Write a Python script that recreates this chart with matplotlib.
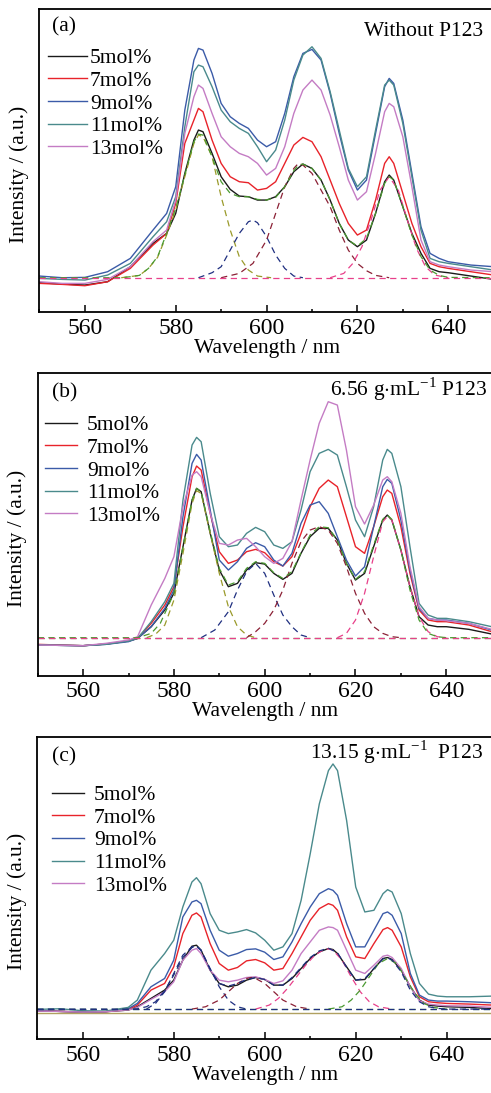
import matplotlib
matplotlib.use('Agg')
import matplotlib.pyplot as plt
from matplotlib.ticker import MultipleLocator

plt.rcParams['font.family'] = ['Liberation Serif', 'DejaVu Serif']
plt.rcParams['mathtext.fontset'] = 'custom'
plt.rcParams['mathtext.rm'] = 'Liberation Serif'
plt.rcParams['font.size'] = 15.5

labels = ['5mol%', '7mol%', '9mol%', '11mol%', '13mol%']
colors = ['#1a1a1a', '#e8232a', '#3b5ba8', '#4a8a8c', '#c47cc4']

# ---------------- (a) without P123 ----------------
wl_a = [550, 555, 560, 565, 570, 575, 578, 580, 582, 584, 585, 586, 588, 590, 592, 594, 596, 598, 600, 602, 604,
        606, 608, 610, 612, 614, 616, 618, 620, 622, 624, 626, 627, 628, 630, 632, 634, 636, 638, 640, 645, 650]
a_5 = [88, 84, 81, 91, 136, 206, 236, 296, 416, 516, 546, 541, 476, 406, 368, 348, 346, 336, 336, 346, 376,
       421, 444, 431, 396, 336, 266, 216, 196, 216, 296, 391, 411, 396, 316, 236, 176, 131, 121, 118, 108, 98]
a_7 = [86, 83, 79, 91, 131, 201, 236, 326, 506, 576, 611, 601, 516, 446, 406, 391, 388, 366, 371, 391, 446,
       501, 524, 511, 466, 396, 326, 266, 231, 246, 336, 446, 466, 446, 356, 266, 196, 146, 136, 131, 121, 111]
a_9 = [108, 103, 104, 121, 161, 246, 296, 376, 606, 756, 791, 786, 716, 626, 586, 566, 551, 516, 496, 511, 596,
       706, 776, 788, 756, 656, 536, 426, 366, 396, 536, 676, 701, 686, 576, 416, 256, 176, 161, 151, 141, 136]
a_11 = [101, 98, 96, 111, 146, 226, 271, 346, 556, 721, 741, 736, 676, 606, 571, 551, 536, 496, 451, 486, 576,
        696, 771, 796, 761, 661, 546, 431, 376, 406, 546, 681, 696, 681, 566, 406, 246, 161, 151, 146, 136, 126]
a_13 = [91, 86, 86, 98, 136, 211, 246, 336, 536, 646, 681, 671, 596, 526, 496, 476, 466, 446, 411, 431, 496,
        596, 666, 696, 666, 591, 496, 396, 336, 361, 476, 601, 626, 616, 526, 376, 216, 151, 141, 136, 126, 121]
a_base = 103

# fitted components (a)
a_p1_wl = [568, 572, 574, 576, 578, 580, 582, 584, 585, 586, 588, 590, 592, 594, 596, 598, 601]
a_p1 = [103, 110, 131, 164, 231, 306, 406, 506, 531, 526, 466, 346, 246, 166, 126, 108, 103]
a_p2_wl = [585, 588, 590, 592, 594, 596, 597, 598, 600, 602, 604, 606, 608]
a_p2 = [103, 118, 136, 186, 236, 271, 276, 268, 226, 171, 131, 108, 103]
a_p3_wl = [590, 594, 597, 600, 602, 604, 606, 607, 608, 610, 612, 614, 616, 618, 620, 622, 624, 627]
a_p3 = [103, 116, 146, 216, 296, 376, 431, 446, 441, 416, 366, 316, 246, 186, 146, 124, 110, 103]
a_p4_wl = [614, 617, 619, 621, 623, 625, 627, 629, 631, 633, 635, 637, 640]
a_p4 = [103, 116, 146, 196, 276, 366, 406, 366, 276, 191, 136, 111, 103]
a_fit_wl = [550, 568, 570, 572, 574, 576, 578, 580, 582, 584, 585, 586, 588, 590, 592, 594, 596, 598, 600, 602, 604,
            606, 607, 608, 610, 612, 614, 616, 618, 620, 622, 624, 626, 627, 628, 630, 632, 634, 636, 638, 640, 650]
a_fit = [103, 103, 106, 110, 131, 166, 236, 311, 411, 511, 534, 531, 466, 391, 356, 346, 346, 338, 336, 344, 376,
         424, 441, 444, 431, 396, 336, 266, 216, 198, 221, 296, 386, 406, 396, 316, 231, 166, 126, 110, 104, 103]

# ---------------- (b) 6.56 g/mL P123 ----------------
wl_b = [550, 555, 560, 565, 570, 572, 575, 578, 580, 582, 584, 585, 586, 588, 590, 592, 594, 596, 598, 600, 602, 604,
        606, 608, 610, 612, 614, 616, 618, 620, 622, 624, 626, 627, 628, 630, 632, 634, 636, 638, 640, 645, 650]
b_5 = [92, 91, 90, 95, 104, 112, 147, 197, 247, 387, 527, 562, 552, 427, 317, 267, 277, 317, 339, 335, 307, 289,
       307, 367, 417, 442, 442, 407, 337, 287, 307, 387, 467, 482, 467, 377, 267, 177, 152, 147, 147, 139, 125]
b_7 = [94, 92, 90, 95, 104, 112, 157, 212, 267, 447, 597, 629, 617, 487, 372, 337, 347, 372, 379, 369, 342, 329,
       357, 427, 507, 562, 587, 567, 477, 387, 367, 447, 537, 557, 547, 447, 307, 197, 167, 162, 162, 152, 132]
b_9 = [92, 91, 90, 94, 102, 112, 147, 202, 257, 477, 637, 664, 647, 497, 347, 317, 342, 382, 399, 387, 347, 329,
       367, 457, 512, 522, 487, 417, 347, 299, 327, 447, 567, 589, 577, 467, 317, 202, 172, 167, 167, 157, 137]
b_11 = [92, 91, 90, 94, 104, 112, 162, 222, 277, 527, 692, 715, 702, 547, 417, 387, 392, 427, 445, 432, 392, 382,
        402, 497, 612, 667, 679, 662, 567, 467, 417, 507, 647, 679, 667, 567, 387, 217, 182, 172, 172, 162, 147]
b_13 = [92, 91, 90, 97, 107, 117, 212, 292, 357, 507, 602, 612, 597, 487, 397, 392, 407, 412, 387, 357, 337, 352,
        402, 527, 647, 757, 822, 812, 677, 507, 455, 512, 587, 597, 582, 487, 327, 207, 172, 167, 165, 157, 139]
b_base = 114

b_p1_wl = [574, 576, 578, 580, 582, 584, 585, 586, 588, 590, 592, 594, 596, 598]
b_p1 = [114, 125, 152, 227, 367, 517, 555, 547, 427, 307, 207, 147, 122, 114]
b_p2_wl = [586, 589, 592, 594, 596, 598, 600, 602, 604, 606, 608, 610]
b_p2 = [114, 137, 192, 257, 312, 337, 307, 242, 182, 147, 122, 114]
b_p3_wl = [596, 598, 600, 602, 604, 606, 608, 610, 612, 614, 616, 618, 620, 622, 624, 626, 628, 630]
b_p3 = [114, 132, 157, 197, 257, 337, 402, 437, 447, 437, 397, 327, 247, 187, 147, 127, 117, 114]
b_p4_wl = [616, 618, 620, 622, 624, 626, 627, 628, 630, 632, 634, 636, 638, 640]
b_p4 = [114, 127, 167, 247, 357, 462, 477, 467, 377, 267, 177, 132, 117, 114]
b_fit_wl = [550, 572, 575, 577, 578, 580, 582, 584, 585, 586, 588, 590, 592, 594, 596, 598, 600, 602, 604, 606,
            608, 610, 612, 614, 616, 618, 620, 622, 624, 626, 627, 628, 630, 632, 634, 636, 638, 640, 650]
b_fit = [114, 114, 127, 157, 187, 247, 387, 527, 562, 552, 432, 322, 272, 282, 322, 342, 337, 309, 292, 312,
         369, 422, 447, 444, 407, 337, 289, 312, 392, 469, 482, 469, 377, 257, 167, 127, 117, 114, 114]

# ---------------- (c) 13.15 g/mL P123 ----------------
wl_c = [550, 555, 560, 565, 570, 572, 575, 578, 580, 582, 584, 585, 586, 588, 590, 592, 594, 596, 598, 600, 602, 604,
        606, 608, 610, 612, 614, 615, 616, 618, 620, 622, 624, 626, 627, 628, 630, 632, 634, 636, 638, 640, 645, 650]
c_5 = [85, 83, 81, 82, 87, 97, 122, 147, 177, 237, 279, 282, 267, 207, 167, 157, 162, 177, 185, 179, 162, 162,
       182, 212, 242, 262, 272, 269, 257, 217, 177, 179, 212, 242, 245, 239, 207, 157, 117, 102, 99, 97, 95, 91]
c_7 = [85, 83, 81, 82, 89, 102, 147, 167, 217, 317, 372, 379, 367, 287, 227, 207, 215, 235, 239, 229, 207, 212,
       257, 307, 357, 392, 407, 402, 387, 307, 247, 242, 287, 329, 335, 327, 277, 187, 127, 112, 109, 107, 105, 102]
c_9 = [85, 83, 81, 82, 91, 107, 157, 182, 237, 367, 412, 417, 407, 327, 267, 249, 257, 269, 271, 261, 239, 247,
       292, 347, 397, 437, 452, 447, 432, 347, 277, 277, 327, 377, 382, 372, 317, 197, 132, 117, 114, 114, 112, 109]
c_11 = [89, 91, 85, 84, 95, 117, 207, 257, 297, 397, 472, 485, 467, 377, 327, 317, 322, 329, 319, 297, 267, 277,
        317, 417, 557, 707, 807, 827, 807, 657, 457, 382, 387, 437, 449, 442, 377, 257, 167, 135, 129, 127, 127, 129]
c_13 = [84, 83, 81, 82, 87, 95, 119, 142, 172, 237, 267, 272, 257, 207, 177, 172, 177, 185, 187, 179, 167, 175,
        207, 257, 292, 327, 337, 335, 327, 267, 207, 197, 222, 249, 252, 245, 212, 157, 115, 105, 102, 100, 99, 95]
c_base = 90
c_floor = 79

c_p1_wl = [574, 576, 578, 580, 582, 584, 585, 586, 588, 590, 592, 594, 596]
c_p1 = [90, 107, 142, 197, 252, 277, 279, 267, 212, 157, 117, 97, 90]
c_p2_wl = [584, 587, 590, 592, 594, 596, 597, 598, 600, 602, 604, 607, 610]
c_p2 = [90, 97, 117, 142, 167, 182, 185, 182, 167, 142, 117, 97, 90]
c_p3_wl = [598, 601, 603, 605, 607, 609, 611, 613, 614, 615, 617, 619, 621, 623, 625, 628]
c_p3 = [90, 102, 122, 152, 187, 222, 252, 269, 271, 267, 237, 187, 142, 112, 97, 90]
c_p4_wl = [614, 617, 619, 621, 623, 625, 627, 629, 631, 633, 635, 637, 640]
c_p4 = [90, 97, 117, 147, 187, 227, 242, 227, 182, 137, 107, 95, 90]
c_fit_wl = [550, 570, 572, 574, 576, 578, 580, 582, 584, 585, 586, 588, 590, 592, 594, 596, 598, 600, 602, 604,
            606, 608, 610, 612, 614, 616, 618, 620, 622, 624, 626, 627, 628, 630, 632, 634, 636, 638, 640, 650]
c_fit = [90, 90, 91, 97, 112, 145, 192, 245, 275, 279, 267, 209, 167, 159, 167, 179, 185, 179, 162, 162,
         185, 215, 245, 265, 273, 259, 215, 177, 182, 212, 241, 244, 237, 202, 147, 112, 97, 92, 90, 90]

olive = '#9a9a2a'
navy = '#1f2f80'
maroon = '#8b2035'
hotpink = '#e8408a'
green = '#4a9a30'

fig = plt.figure(figsize=(4.91, 10.93), dpi=100)


def panel(pos, wl, curves, comps, fit, fit_color, base, base_colors, tag, title, tag_xy, title_xy, leg_xy, hl, htp):
    ax = fig.add_axes(pos)
    for y, c, lab in zip(curves, colors, labels):
        ax.plot(wl, y, color=c, lw=1.0, label=lab)
    for cw, cy, cc in comps:
        ax.plot(cw, cy, color=cc, lw=0.9, dashes=(5, 3.5))
    ax.plot(fit[0], fit[1], color=fit_color, lw=0.9, dashes=(5, 3.5))
    for bc in base_colors:
        ax.plot([550, 650], [base, base], color=bc, lw=0.9, dashes=(5, 3.5))
    ax.set_xlim(550, 650)
    ax.set_ylim(0, 909)
    ax.set_yticks([])
    ax.xaxis.set_major_locator(MultipleLocator(20))
    ax.xaxis.set_minor_locator(MultipleLocator(10))
    ax.tick_params(axis='x', which='major', direction='in', length=5, width=1.1, pad=4, labelsize=17)
    ax.tick_params(axis='x', which='minor', direction='in', length=2.5, width=1.1)
    for s in ax.spines.values():
        s.set_linewidth(1.3)
    ax.set_xlabel('Wavelength / nm', labelpad=0)
    ax.set_ylabel('Intensity / (a.u.)')
    ax.yaxis.set_label_coords(-0.023, 0.454)
    ax.text(tag_xy[0], tag_xy[1], tag, transform=ax.transAxes, va='center', ha='left')
    ax.text(title_xy[0], title_xy[1], title, transform=ax.transAxes, va='center', ha='right')
    ax.legend(loc='upper left', bbox_to_anchor=leg_xy, frameon=False, borderpad=0, borderaxespad=0,
              labelspacing=0.12, handlelength=hl, handletextpad=htp, fontsize=15.5)
    return ax


panel([0.0804, 0.7145, 0.925, 0.2772], wl_a, [a_5, a_7, a_9, a_11, a_13],
      [(a_p1_wl, a_p1, olive), (a_p2_wl, a_p2, navy), (a_p3_wl, a_p3, maroon), (a_p4_wl, a_p4, hotpink)],
      (a_fit_wl, a_fit), green, a_base, [hotpink],
      '(a)', 'Without P123', (0.028, 0.94), (0.977, 0.927), (0.019, 0.871), 1.8, 0.15)

panel([0.0768, 0.3818, 0.9246, 0.2772], wl_b, [b_5, b_7, b_9, b_11, b_13],
      [(b_p1_wl, b_p1, olive), (b_p2_wl, b_p2, navy), (b_p3_wl, b_p3, maroon), (b_p4_wl, b_p4, hotpink)],
      (b_fit_wl, b_fit), green, b_base, [green, hotpink],
      '(b)', r'6.56 g$\cdot$mL$^{-1}$ P123', (0.031, 0.932), (0.990, 0.946), (0.016, 0.860), 1.5, 0.45)

ax_c = panel([0.0758, 0.0494, 0.9267, 0.2766], wl_c, [c_5, c_7, c_9, c_11, c_13],
             [(c_p1_wl, c_p1, navy), (c_p2_wl, c_p2, maroon), (c_p3_wl, c_p3, hotpink), (c_p4_wl, c_p4, green)],
             (c_fit_wl, c_fit), navy, c_base, [green, navy],
             '(c)', r'13.15 g$\cdot$mL$^{-1}$  P123', (0.032, 0.932), (0.980, 0.949), (0.032, 0.840), 1.5, 0.45)
ax_c.axhline(c_floor, color='#b0a060', lw=1.0)

fig.savefig('out.png', dpi=100)
